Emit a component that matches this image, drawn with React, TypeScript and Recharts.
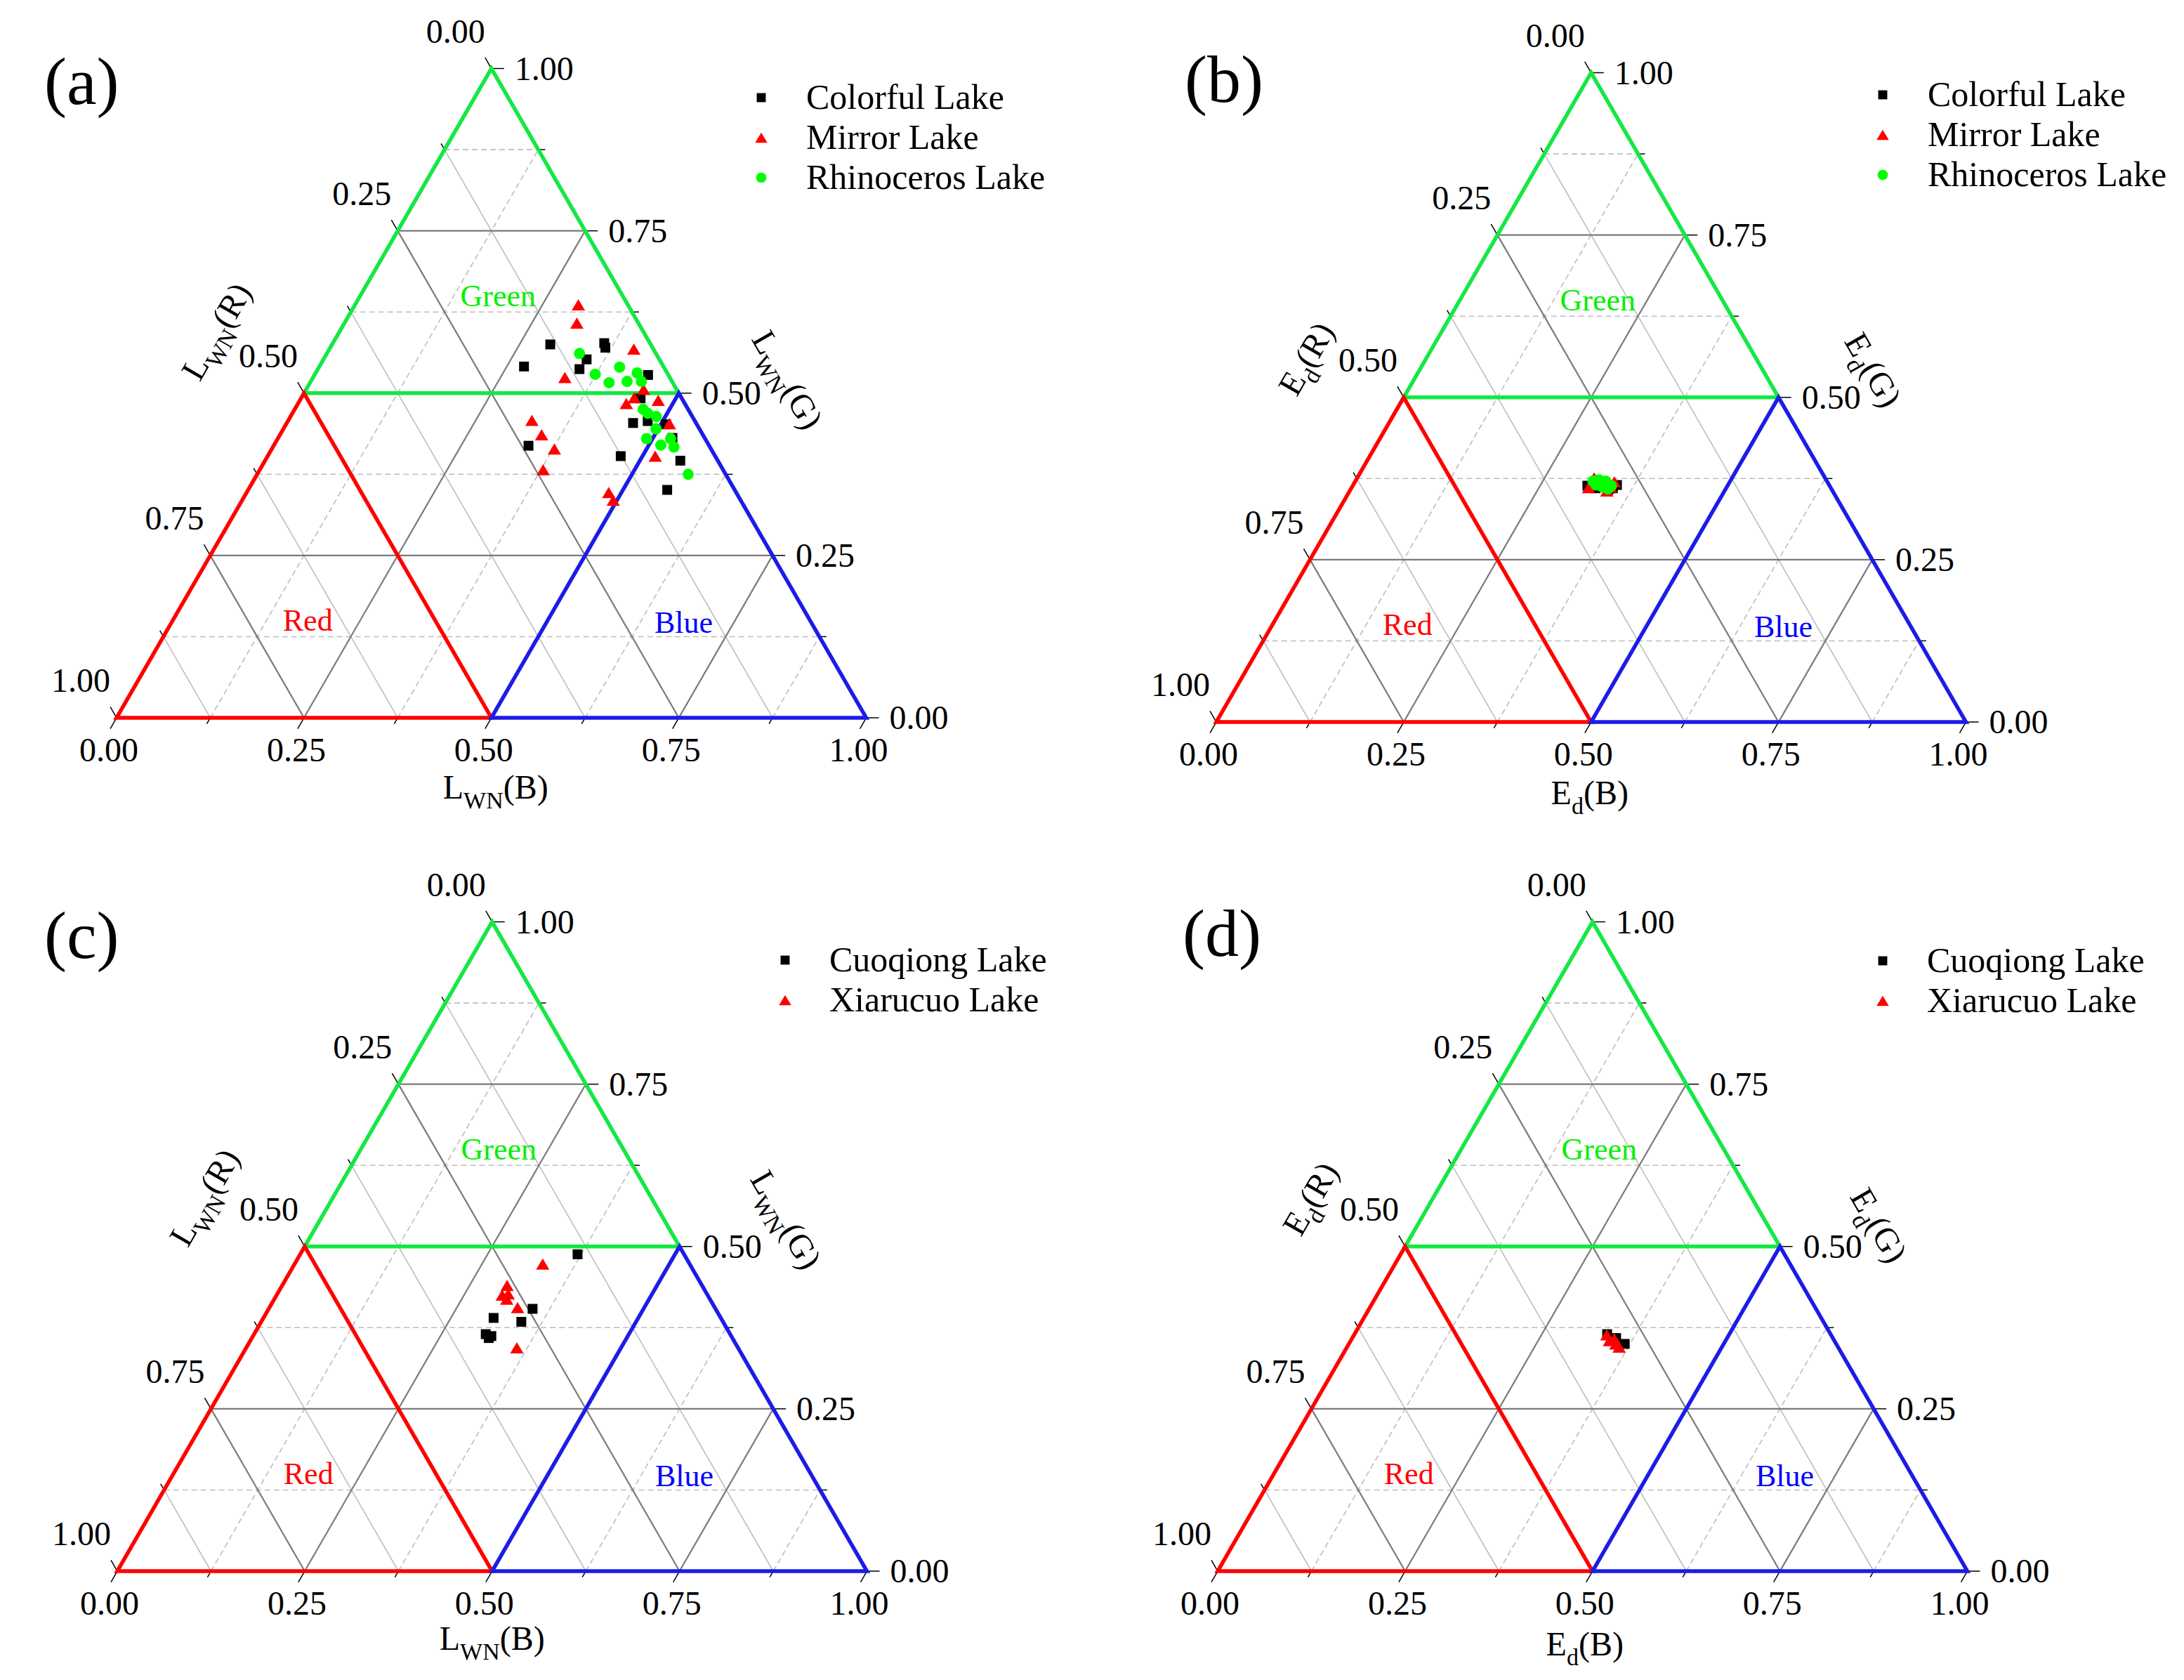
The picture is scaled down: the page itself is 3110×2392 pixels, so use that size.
import React from 'react';
import { ScatterChart, Scatter, XAxis, YAxis, ReferenceLine, ReferenceDot, Legend } from 'recharts';

// Ternary compositions: [B, G, R]
type Tern = [number, number, number];

// ---------- panel (a): L_WN ----------
const colorfulA: Tern[] = [
  [0.291, 0.575, 0.134], [0.273, 0.541, 0.186], [0.362, 0.577, 0.061], [0.367, 0.570, 0.063],
  [0.351, 0.552, 0.097], [0.349, 0.537, 0.114], [0.445, 0.528, 0.027], [0.453, 0.492, 0.055],
  [0.462, 0.454, 0.084], [0.480, 0.457, 0.063], [0.507, 0.452, 0.041], [0.526, 0.431, 0.043],
  [0.340, 0.419, 0.241], [0.471, 0.403, 0.126], [0.554, 0.396, 0.050], [0.559, 0.351, 0.090],
];
const mirrorA: Tern[] = [
  [0.298, 0.636, 0.066], [0.310, 0.608, 0.082], [0.406, 0.568, 0.026], [0.336, 0.524, 0.140],
  [0.450, 0.506, 0.044], [0.444, 0.493, 0.063], [0.438, 0.484, 0.078], [0.478, 0.489, 0.033],
  [0.325, 0.458, 0.217], [0.349, 0.436, 0.215], [0.377, 0.414, 0.209], [0.511, 0.453, 0.036],
  [0.378, 0.382, 0.240], [0.517, 0.403, 0.080], [0.483, 0.347, 0.170], [0.495, 0.335, 0.170],
];
const rhinoA: Tern[] = [
  [0.337, 0.561, 0.102], [0.374, 0.529, 0.097], [0.399, 0.516, 0.085], [0.401, 0.540, 0.059],
  [0.422, 0.518, 0.060], [0.429, 0.531, 0.040], [0.441, 0.518, 0.041], [0.465, 0.475, 0.060],
  [0.474, 0.469, 0.057], [0.488, 0.464, 0.048], [0.497, 0.445, 0.058], [0.492, 0.430, 0.078],
  [0.516, 0.420, 0.064], [0.524, 0.430, 0.046], [0.535, 0.417, 0.048], [0.575, 0.375, 0.050],
];

// ---------- panel (b): Ed ----------
const colorfulB: Tern[] = [
  [0.313, 0.364, 0.323], [0.352, 0.365, 0.283], [0.344, 0.358, 0.298],
  [0.326, 0.360, 0.314], [0.333, 0.365, 0.302], [0.349, 0.360, 0.291],
];
const mirrorB: Tern[] = [
  [0.316, 0.376, 0.308], [0.346, 0.370, 0.284], [0.316, 0.361, 0.323],
  [0.343, 0.356, 0.301], [0.329, 0.367, 0.304], [0.345, 0.362, 0.293],
];
const rhinoB: Tern[] = [
  [0.317, 0.371, 0.312], [0.324, 0.373, 0.303], [0.334, 0.371, 0.295], [0.345, 0.364, 0.291],
  [0.343, 0.359, 0.298], [0.324, 0.365, 0.311], [0.334, 0.362, 0.304],
];

// ---------- panel (c): L_WN ----------
const cuoqiongC: Tern[] = [
  [0.370, 0.488, 0.142], [0.352, 0.404, 0.244], [0.307, 0.390, 0.303], [0.347, 0.384, 0.269],
  [0.309, 0.365, 0.326], [0.318, 0.362, 0.320], [0.316, 0.359, 0.325],
];
const xiarucuoC: Tern[] = [
  [0.331, 0.473, 0.196], [0.300, 0.440, 0.260], [0.301, 0.425, 0.274], [0.308, 0.427, 0.265],
  [0.310, 0.419, 0.271], [0.331, 0.406, 0.263], [0.361, 0.344, 0.295],
];

// ---------- panel (d): Ed ----------
const cuoqiongD: Tern[] = [
  [0.337, 0.365, 0.298], [0.352, 0.359, 0.289], [0.368, 0.350, 0.282],
];
const xiarucuoD: Tern[] = [
  [0.337, 0.364, 0.299], [0.345, 0.355, 0.300], [0.350, 0.358, 0.292],
  [0.356, 0.350, 0.294], [0.363, 0.345, 0.292],
];

// ---------- axes / regions ----------
const TICK_VALUES = [0, 0.25, 0.5, 0.75, 1];
const TICK_LABELS = ['0.00', '0.25', '0.50', '0.75', '1.00'];
const MAJOR_GRID = [0.25, 0.5, 0.75];
const MINOR_VALUES = [0.125, 0.375, 0.625, 0.875];

const REGION_NAMES = ['Green', 'Red', 'Blue'];
const REGION_LINE_COLORS = ['#14e843', '#ff0000', '#1c1ce6'];
const REGION_TEXT_COLORS = ['#00f000', '#ff0000', '#0000ff'];
const greenRegion: Tern[] = [[0.25, 0.5, 0.25], [0.5, 0.5, 0], [0, 1, 0], [0, 0.5, 0.5], [0.25, 0.5, 0.25]];
const redRegion: Tern[] = [[0.25, 0, 0.75], [0.5, 0, 0.5], [0, 0.5, 0.5], [0, 0, 1], [0.25, 0, 0.75]];
const blueRegion: Tern[] = [[0.75, 0, 0.25], [1, 0, 0], [0.5, 0.5, 0], [0.5, 0, 0.5], [0.75, 0, 0.25]];
const REGIONS = [greenRegion, redRegion, blueRegion];
const REGION_LABEL_POS: Tern[] = [[0.184, 0.650, 0.166], [0.180, 0.150, 0.670], [0.683, 0.147, 0.170]];

// ---------- layout ----------
const H3 = Math.sqrt(3) / 2;
const SIDE = 1067.5;
const CW = 1555;
const CH = 1196;
const FONT = '"Liberation Serif", "Times New Roman", serif';
const TICK_FS = 48;
const TITLE_FS = 48;
const LEGEND_FS = 50;

const toXY = ([b, g, r]: Tern) => {
  const s = b + g + r;
  return { x: (b + g / 2) / s, y: (g * H3) / s };
};

type SeriesCfg = { name: string; type: 'square' | 'triangle' | 'circle'; color: string; data: Tern[] };

const lakesAB = (c: Tern[], m: Tern[], r: Tern[]): SeriesCfg[] => [
  { name: 'Colorful Lake', type: 'square', color: '#000000', data: c },
  { name: 'Mirror Lake', type: 'triangle', color: '#ff0000', data: m },
  { name: 'Rhinoceros Lake', type: 'circle', color: '#00ff00', data: r },
];
const lakesCD = (c: Tern[], x: Tern[]): SeriesCfg[] => [
  { name: 'Cuoqiong Lake', type: 'square', color: '#000000', data: c },
  { name: 'Xiarucuo Lake', type: 'triangle', color: '#ff0000', data: x },
];

const PANELS = [
  {
    id: '(a)', left: 0, top: 0, blx: 166, bly: 1022, main: 'L', sub: 'WN',
    series: lakesAB(colorfulA, mirrorA, rhinoA),
    legend: { markerX: 1084, textX: 1148, row0: 139, gap: 57 },
    label: { x: 63, y: 148 },
    leftTitle: [-123, -87], rightTitle: [153, -18], bottomTitle: [6, 115],
  },
  {
    id: '(b)', left: 1555, top: 0, blx: 177, bly: 1028, main: 'E', sub: 'd',
    series: lakesAB(colorfulB, mirrorB, rhinoB),
    legend: { markerX: 1126, textX: 1190, row0: 135, gap: 57 },
    label: { x: 132, y: 145 },
    leftTitle: [-137, -54], rightTitle: [133, -38], bottomTitle: [-2, 117],
  },
  {
    id: '(c)', left: 0, top: 1196, blx: 167, bly: 1041, main: 'L', sub: 'WN',
    series: lakesCD(cuoqiongC, xiarucuoC),
    legend: { markerX: 1118, textX: 1181, row0: 171, gap: 57 },
    label: { x: 63, y: 168 },
    leftTitle: [-141, -69], rightTitle: [150, -37], bottomTitle: [0, 112],
  },
  {
    id: '(d)', left: 1555, top: 1196, blx: 179, bly: 1041, main: 'E', sub: 'd',
    series: lakesCD(cuoqiongD, xiarucuoD),
    legend: { markerX: 1126, textX: 1189, row0: 172, gap: 57 },
    label: { x: 129, y: 165 },
    leftTitle: [-133, -67], rightTitle: [139, -29], bottomTitle: [-11, 120],
  },
];

type PanelCfg = (typeof PANELS)[number];

// ---------- marker shapes ----------
function marker(type: string, cx: number, cy: number, color: string, k = 1) {
  if (type === 'square') {
    const s = 14 * k;
    return <rect x={cx - s / 2} y={cy - s / 2} width={s} height={s} fill={color} />;
  }
  if (type === 'triangle') {
    const w = 19 * k;
    const h = 16 * k;
    return <polygon points={`${cx},${cy - h / 2} ${cx + w / 2},${cy + h / 2} ${cx - w / 2},${cy + h / 2}`} fill={color} />;
  }
  return <circle cx={cx} cy={cy} r={8 * k} fill={color} />;
}

// ---------- grid segments ----------
const lineG = (v: number): [Tern, Tern] => [[0, v, 1 - v], [1 - v, v, 0]];
const lineB = (v: number): [Tern, Tern] => [[v, 0, 1 - v], [v, 1 - v, 0]];
const lineR = (v: number): [Tern, Tern] => [[1 - v, 0, v], [0, 1 - v, v]];

function seg(key: string, a: { x: number; y: number }, b: { x: number; y: number }, stroke: string, w: number, dash?: string) {
  return (
    <ReferenceLine
      key={key}
      segment={[{ x: a.x, y: a.y }, { x: b.x, y: b.y }]}
      stroke={stroke}
      strokeWidth={w}
      strokeDasharray={dash}
      ifOverflow="visible"
    />
  );
}

function textAt(key: string, pos: { x: number; y: number }, render: (cx: number, cy: number) => React.ReactElement) {
  return (
    <ReferenceDot
      key={key}
      x={pos.x}
      y={pos.y}
      r={0}
      ifOverflow="visible"
      shape={(p: any) => render(p.cx, p.cy)}
    />
  );
}

function titleSpans(main: string, sub: string, tail: string) {
  return [
    <tspan key="m">{main}</tspan>,
    <tspan key="s" fontSize={34} dy={14}>{sub}</tspan>,
    <tspan key="t" dy={-14}>{tail}</tspan>,
  ];
}

function TernaryPanel({ cfg }: { cfg: PanelCfg }) {
  const xDomain = [-cfg.blx / SIDE, (CW - cfg.blx) / SIDE];
  const yDomain = [(cfg.bly - CH) / SIDE, cfg.bly / SIDE];

  const grid: React.ReactElement[] = [];
  MINOR_VALUES.forEach((v, i) => {
    const g = lineG(v), b = lineB(v), r = lineR(v);
    grid.push(seg(`mg${i}`, toXY(g[0]), toXY(g[1]), '#bdbdbd', 1.6, '8 5'));
    grid.push(seg(`mb${i}`, toXY(b[0]), toXY(b[1]), '#bdbdbd', 1.6, '8 5'));
    grid.push(seg(`mr${i}`, toXY(r[0]), toXY(r[1]), '#bebebe', 1.6));
  });
  MAJOR_GRID.forEach((v, i) => {
    const g = lineG(v), b = lineB(v), r = lineR(v);
    grid.push(seg(`Mg${i}`, toXY(g[0]), toXY(g[1]), '#7a7a7a', 2.2));
    grid.push(seg(`Mb${i}`, toXY(b[0]), toXY(b[1]), '#7a7a7a', 2.2));
    grid.push(seg(`Mr${i}`, toXY(r[0]), toXY(r[1]), '#7a7a7a', 2.2));
  });

  // ticks on each side
  const ticks: React.ReactElement[] = [];
  [...TICK_VALUES, ...MINOR_VALUES].forEach((v, i) => {
    const L = (i < TICK_VALUES.length ? 18 : 10) / SIDE;
    const pb = toXY([v, 0, 1 - v]);
    ticks.push(seg(`tb${i}`, pb, { x: pb.x - 0.5 * L, y: pb.y - H3 * L }, '#000', 1.5));
    const pl = toXY([0, 1 - v, v]);
    ticks.push(seg(`tl${i}`, pl, { x: pl.x - 0.5 * L, y: pl.y + H3 * L }, '#000', 1.5));
    const pr = toXY([1 - v, v, 0]);
    ticks.push(seg(`tr${i}`, pr, { x: pr.x + L, y: pr.y }, '#000', 1.5));
  });

  const texts: React.ReactElement[] = [];
  TICK_VALUES.forEach((v, i) => {
    texts.push(textAt(`lb${i}`, toXY([v, 0, 1 - v]), (cx, cy) => (
      <text x={cx - 11} y={cy + 62} textAnchor="middle" fontFamily={FONT} fontSize={TICK_FS} fill="#000">{TICK_LABELS[i]}</text>
    )));
    texts.push(textAt(`ll${i}`, toXY([0, 1 - v, v]), (cx, cy) => (
      <text x={cx - 51} y={cy - 37} textAnchor="middle" fontFamily={FONT} fontSize={TICK_FS} fill="#000">{TICK_LABELS[i]}</text>
    )));
    texts.push(textAt(`lr${i}`, toXY([1 - v, v, 0]), (cx, cy) => (
      <text x={cx + 33} y={cy + 16} textAnchor="start" fontFamily={FONT} fontSize={TICK_FS} fill="#000">{TICK_LABELS[i]}</text>
    )));
  });

  REGION_NAMES.forEach((n, i) => {
    texts.push(textAt(`rn${i}`, toXY(REGION_LABEL_POS[i]), (cx, cy) => (
      <text x={cx} y={cy + 15} textAnchor="middle" fontFamily={FONT} fontSize={44} fill={REGION_TEXT_COLORS[i]}>{n}</text>
    )));
  });

  const [lx, ly] = cfg.leftTitle;
  texts.push(textAt('tL', toXY([0, 0.5, 0.5]), (cx, cy) => (
    <g transform={`translate(${cx + lx},${cy + ly}) rotate(-60)`}>
      <text x={0} y={14} textAnchor="middle" fontFamily={FONT} fontSize={TITLE_FS} fill="#000">{titleSpans(cfg.main, cfg.sub, '(R)')}</text>
    </g>
  )));
  const [rx, ry] = cfg.rightTitle;
  texts.push(textAt('tR', toXY([0.5, 0.5, 0]), (cx, cy) => (
    <g transform={`translate(${cx + rx},${cy + ry}) rotate(60)`}>
      <text x={0} y={14} textAnchor="middle" fontFamily={FONT} fontSize={TITLE_FS} fill="#000">{titleSpans(cfg.main, cfg.sub, '(G)')}</text>
    </g>
  )));
  const [bx, by] = cfg.bottomTitle;
  texts.push(textAt('tB', toXY([0.5, 0, 0.5]), (cx, cy) => (
    <text x={cx + bx} y={cy + by} textAnchor="middle" fontFamily={FONT} fontSize={TITLE_FS} fill="#000">{titleSpans(cfg.main, cfg.sub, '(B)')}</text>
  )));
  texts.push(textAt('pl', toXY([0, 0, 1]), (cx, cy) => (
    <text x={cx + cfg.label.x - cfg.blx} y={cy + cfg.label.y - cfg.bly} textAnchor="start" fontFamily={FONT} fontSize={96} fill="#000">{cfg.id}</text>
  )));

  const lg = cfg.legend;
  const renderLegend = (props: any) => {
    const items = (props.payload || []).filter((e: any) => e.type !== 'none');
    return (
      <svg width={560} height={items.length * lg.gap + 40} style={{ display: 'block', overflow: 'visible' }}>
        {items.map((e: any, i: number) => {
          const s = cfg.series.find((q) => q.name === e.value);
          const cy = 30 + i * lg.gap;
          return (
            <g key={i}>
              {marker(s ? s.type : e.type, 15, cy, s ? s.color : e.color, 0.92)}
              <text x={15 + lg.textX - lg.markerX} y={cy + 16} fontFamily={FONT} fontSize={LEGEND_FS} fill="#000">{e.value}</text>
            </g>
          );
        })}
      </svg>
    );
  };

  return (
    <ScatterChart width={CW} height={CH} margin={{ top: 0, right: 0, bottom: 0, left: 0 }}>
      <XAxis type="number" dataKey="x" domain={xDomain} hide allowDataOverflow />
      <YAxis type="number" dataKey="y" domain={yDomain} hide allowDataOverflow />
      {grid}
      {ticks}
      {REGIONS.map((reg, i) => (
        <Scatter
          key={`reg${i}`}
          name={`region-${REGION_NAMES[i]}`}
          data={reg.map(toXY)}
          line={{ stroke: REGION_LINE_COLORS[i], strokeWidth: 5.5 }}
          shape={() => <g />}
          legendType="none"
          isAnimationActive={false}
        />
      ))}
      {cfg.series.map((s) => (
        <Scatter
          key={s.name}
          name={s.name}
          data={s.data.map(toXY)}
          fill={s.color}
          legendType={s.type}
          isAnimationActive={false}
          shape={(p: any) => marker(s.type, p.cx, p.cy, s.color)}
        />
      ))}
      {texts}
      <Legend
        layout="vertical"
        align="center"
        verticalAlign="middle"
        wrapperStyle={{ left: lg.markerX - 15, top: lg.row0 - 30, width: 560 }}
        content={renderLegend}
      />
    </ScatterChart>
  );
}

export default function App() {
  return (
    <div style={{ position: 'absolute', left: 0, top: 0, width: 3110, height: 2392, background: '#ffffff', overflow: 'hidden' }}>
      {PANELS.map((p) => (
        <div key={p.id} style={{ position: 'absolute', left: p.left, top: p.top, width: CW, height: CH }}>
          <TernaryPanel cfg={p} />
        </div>
      ))}
    </div>
  );
}
